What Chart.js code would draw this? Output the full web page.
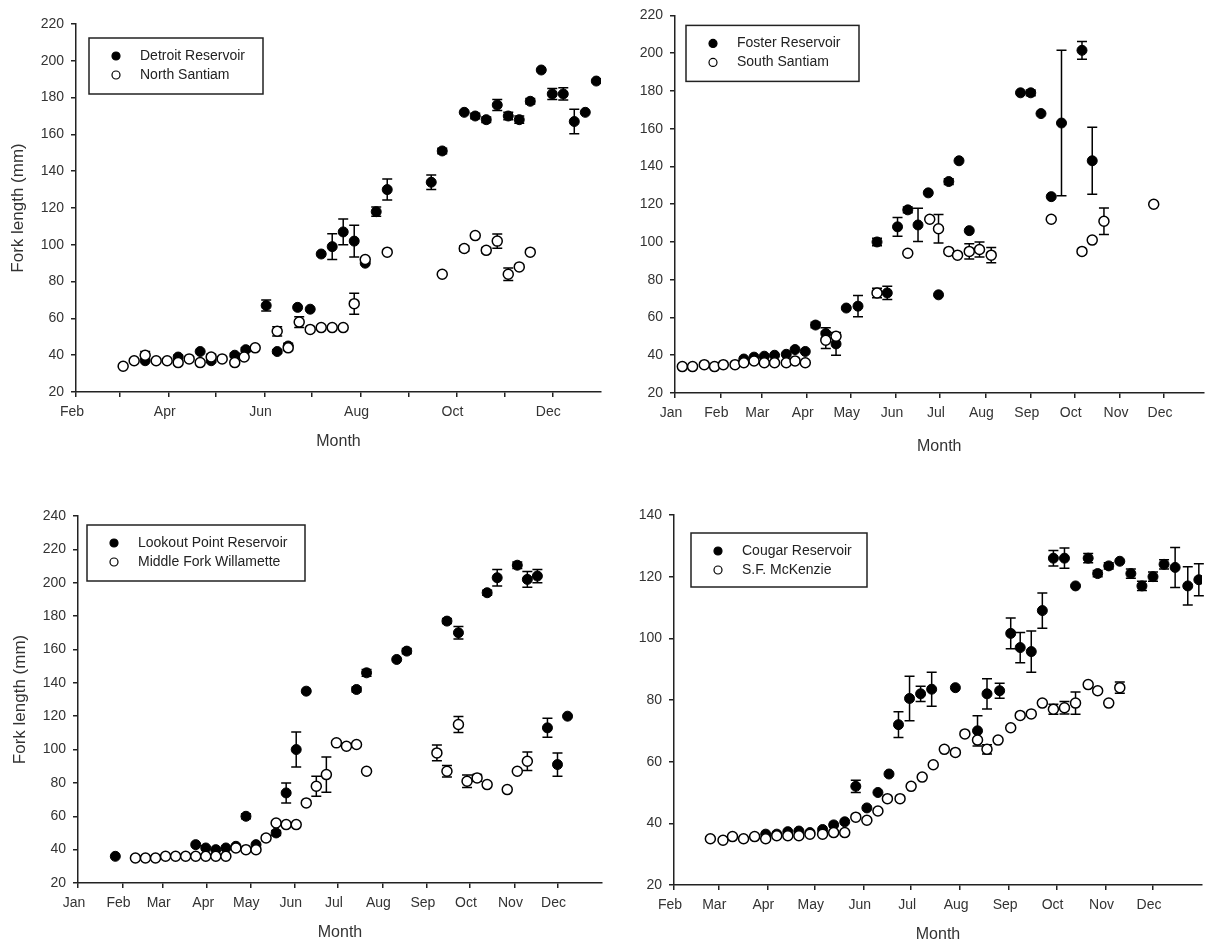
<!DOCTYPE html>
<html>
<head>
<meta charset="utf-8">
<title>Fork length by month</title>
<script src="https://cdn.jsdelivr.net/npm/chart.js@4.4.1/dist/chart.umd.min.js"></script>
<style>
  html, body { margin: 0; padding: 0; background: #fff; }
  #wrap { position: relative; width: 1210px; height: 946px; overflow: hidden; }
  #wrap canvas { position: absolute; left: 0; top: 0; }
</style>
</head>
<body>
<div id="wrap">
  <canvas id="detroit" width="1210" height="946"></canvas>
  <canvas id="foster" width="1210" height="946"></canvas>
  <canvas id="lookout" width="1210" height="946"></canvas>
  <canvas id="cougar" width="1210" height="946"></canvas>
</div>
<script>
// x values are day of year, ticks at the first day of each month
const monthStarts = [1, 32, 60, 91, 121, 152, 182, 213, 244, 274, 305, 335, 366];
const monthNames = ['Jan', 'Feb', 'Mar', 'Apr', 'May', 'Jun', 'Jul', 'Aug', 'Sep', 'Oct', 'Nov', 'Dec', 'Jan'];

// Detroit Reservoir / North Santiam
const detroitDay = [76, 97, 111, 118, 133, 140, 153, 160, 167, 173, 181, 188, 195, 202, 209, 216, 223, 230, 258, 265, 279, 286, 293, 300, 307, 314, 321, 328, 335, 342, 349, 356, 363];
const detroitLen = [37, 39, 42, 37, 40, 43, 67, 42, 45, 66, 65, 95, 99, 107, 102, 90, 118, 130, 134, 151, 172, 170, 168, 176, 170, 168, 178, 195, 182, 182, 167, 172, 189];
const detroitErr = [0, 1, 0, 1, 1, 1, 3, 1, 1.5, 0, 0, 0, 7, 7, 8.6, 0, 2.5, 5.7, 4, 1.5, 0, 1.5, 1.5, 3, 2, 2, 1.5, 0, 3, 3.3, 6.7, 0, 0];
const northDay = [62, 69, 76, 83, 90, 97, 104, 111, 118, 125, 133, 139, 146, 160, 167, 174, 181, 188, 195, 202, 209, 216, 230, 265, 279, 286, 293, 300, 307, 314, 321];
const northLen = [34, 37, 40, 37, 37, 36, 38, 36, 39, 38, 36, 39, 44, 53, 44, 58, 54, 55, 55, 55, 68, 92, 96, 84, 98, 105, 97, 102, 84, 88, 96];
const northErr = [0, 0, 2, 0, 0, 1, 0, 0, 1.5, 0, 0, 0, 0, 2.5, 1.5, 2.9, 0, 0, 0, 0, 5.7, 0, 0, 0, 1.5, 0, 1.5, 3.9, 3.4, 0, 0];

// Foster Reservoir / South Santiam
const fosterDay = [48, 55, 62, 69, 77, 83, 90, 97, 104, 111, 118, 126, 139, 146, 153, 160, 167, 174, 181, 188, 195, 202, 237, 244, 251, 258, 265, 279, 286];
const fosterLen = [38, 39, 39.5, 40, 40.5, 43, 42, 56, 51.5, 46, 65, 66, 100, 73, 108, 117, 109, 126, 72, 132, 143, 106, 179, 179, 168, 124, 163, 201.5, 143];
const fosterErr = [0, 0, 0, 0, 0, 0, 0, 1.5, 3, 6, 0, 5.6, 2, 3.5, 5, 1.5, 8.8, 0, 0, 1.5, 0, 0, 0, 1.5, 0, 0, 38.5, 4.7, 17.7];
const southDay = [6, 13, 21, 28, 34, 42, 48, 55, 62, 69, 77, 83, 90, 104, 111, 139, 160, 175, 181, 188, 194, 202, 209, 217, 258, 279, 286, 294, 328];
const southLen = [34, 34, 35, 34, 35, 35, 36, 37, 36, 36, 36, 37, 36, 48, 50, 73, 94, 112, 107, 95, 93, 95, 96, 93, 112, 95, 101, 111, 120];
const southErr = [0, 0, 0, 0, 0, 0, 0, 0, 0, 0, 0, 0, 0, 4.4, 0, 2.5, 0, 0, 7.5, 0, 0, 4, 4, 4, 0, 0, 0, 7, 0];

// Lookout Point Reservoir / Middle Fork Willamette
const lookoutDay = [27, 83, 90, 97, 104, 111, 118, 125, 139, 146, 153, 160, 195, 202, 223, 230, 258, 266, 286, 293, 307, 314, 321, 328, 335, 342];
const lookoutLen = [36, 43, 41, 40, 41, 42, 60, 43, 50, 74, 100, 135, 136, 146, 154, 159, 177, 170, 194, 203, 210.5, 202, 204, 113, 91, 120];
const lookoutErr = [0, 0, 0, 0, 0, 0, 1.5, 0, 1.5, 6, 10.5, 0, 1.5, 2, 0, 1.5, 1.5, 3.7, 1.5, 5, 2, 4.7, 4, 5.7, 7, 0];
const middleDay = [41, 48, 55, 62, 69, 76, 83, 90, 97, 104, 111, 118, 125, 132, 139, 146, 153, 160, 167, 174, 181, 188, 195, 202, 251, 258, 266, 272, 279, 286, 300, 307, 314];
const middleLen = [35, 35, 35, 36, 36, 36, 36, 36, 36, 36, 41, 40, 40, 47, 56, 55, 55, 68, 78, 85, 104, 102, 103, 87, 98, 87, 115, 81, 83, 79, 76, 87, 93];
const middleErr = [0, 0, 0, 0, 0, 0, 0, 0, 0, 0, 0, 0, 1, 1.5, 0, 0, 0, 0, 6, 10.6, 0, 0, 0, 0, 4.7, 3.4, 4.8, 3.7, 2, 0, 0, 0, 5.5];

// Cougar Reservoir / S.F. McKenzie
const cougarDay = [90, 97, 104, 111, 118, 126, 133, 140, 147, 154, 161, 168, 174, 181, 188, 195, 210, 224, 230, 238, 245, 251, 258, 265, 272, 279, 286, 294, 300, 307, 314, 321, 328, 335, 342, 349, 357, 364];
const cougarLen = [36.5, 36.5, 37.3, 37.5, 37, 38, 39.5, 40.5, 52, 45, 50, 56, 72, 80.5, 82, 83.5, 84, 70, 82, 83, 101.6, 97, 95.7, 109, 126, 126, 117, 126, 121, 123.5, 125, 121, 117, 120, 124, 123, 117, 119];
const cougarErr = [0, 0, 0, 0, 0, 0, 0, 0, 2, 0, 0, 0, 4.2, 7.2, 2.5, 5.5, 0, 4.9, 4.9, 2.4, 5, 4.9, 6.7, 5.7, 2.5, 3.3, 0, 1.5, 1, 1, 0, 1.5, 1.5, 1.5, 1.5, 6.5, 6.2, 5.2];
const mckenzieDay = [55, 63, 69, 76, 83, 90, 97, 104, 111, 118, 126, 133, 140, 147, 154, 161, 167, 175, 182, 189, 196, 203, 210, 216, 224, 230, 237, 245, 251, 258, 265, 272, 279, 286, 294, 300, 307, 314];
const mckenzieLen = [35, 34.5, 35.7, 35, 35.7, 35, 36, 36, 36, 36.5, 36.5, 37, 37, 42, 41, 44, 48, 48, 52, 55, 59, 64, 63, 69, 67, 64, 67, 71, 75, 75.5, 79, 77, 77.5, 79, 85, 83, 79, 84];
const mckenzieErr = [0, 0, 0, 0, 0, 0, 0, 0, 0, 0, 0, 0, 0, 0, 0, 0, 0, 0, 0, 0, 0, 0, 0, 0, 0, 1.5, 0, 0, 0, 0, 0, 1.6, 2, 3.6, 0, 0, 0, 1.8];

const FONT = 'Arial, "Liberation Sans", sans-serif';
Chart.defaults.font.family = FONT;
Chart.defaults.color = '#333';

// mean +/- error bars, drawn under the markers
const errorBars = {
    id: 'errorBars',
    beforeDatasetsDraw(chart) {
        const { ctx, scales: { x, y } } = chart;
        ctx.save();
        ctx.strokeStyle = '#000';
        ctx.lineWidth = 1.5;
        chart.data.datasets.forEach(ds => {
            ds.data.forEach((p, i) => {
                const e = ds.errors[i];
                if (!e) return;
                const px = x.getPixelForValue(p.x);
                const top = y.getPixelForValue(p.y + e);
                const bot = y.getPixelForValue(p.y - e);
                ctx.beginPath();
                ctx.moveTo(px, top); ctx.lineTo(px, bot);
                ctx.moveTo(px - 5, top); ctx.lineTo(px + 5, top);
                ctx.moveTo(px - 5, bot); ctx.lineTo(px + 5, bot);
                ctx.stroke();
            });
        });
        ctx.restore();
    }
};

// boxed legend inside the plot area
const boxLegend = {
    id: 'boxLegend',
    afterDraw(chart, args, opts) {
        const { ctx, chartArea } = chart;
        const left = chartArea.left + opts.dx;
        const top = chartArea.top + opts.dy;
        ctx.save();
        ctx.lineWidth = 1.5;
        ctx.strokeStyle = '#222';
        ctx.strokeRect(left, top, opts.w, opts.h);
        ctx.font = '14px ' + FONT;
        ctx.textBaseline = 'middle';
        chart.data.datasets.forEach((ds, i) => {
            const cy = top + 18 + i * 19;
            ctx.beginPath();
            ctx.arc(left + 27, cy, 4, 0, Math.PI * 2);
            ctx.fillStyle = ds.pointBackgroundColor;
            ctx.fill();
            ctx.lineWidth = 1.2;
            ctx.strokeStyle = '#000';
            ctx.stroke();
            ctx.fillStyle = '#222';
            ctx.fillText(ds.label, left + 51, cy);
        });
        ctx.restore();
    }
};

const axisLine = { drawOnChartArea: false, drawTicks: true, tickLength: 5, color: '#222', lineWidth: 1.5 };
const axisBorder = { display: true, color: '#222', width: 1.5 };

function monthAxis(min, max, every, height) {
    return {
        type: 'linear', min, max,
        afterBuildTicks: axis => {
            axis.ticks = monthStarts.filter(d => d >= min && d < max).map(d => ({ value: d }));
        },
        afterFit: axis => { axis.height = height; },
        grid: axisLine,
        border: axisBorder,
        ticks: {
            autoSkip: false, maxRotation: 0, padding: 7, labelOffset: -4, color: '#333',
            font: { size: 14 },
            callback: v => {
                const i = monthStarts.indexOf(v);
                return (i - 1) % every === 0 ? monthNames[i] : '';
            }
        },
        title: { display: true, text: 'Month', color: '#333', font: { size: 16 }, padding: 0 }
    };
}

function lengthAxis(min, max, width, showTitle, titlePad) {
    return {
        type: 'linear', min, max,
        afterFit: axis => { axis.width = width; },
        grid: axisLine,
        border: axisBorder,
        ticks: { stepSize: 20, padding: 7, color: '#333', font: { size: 14 } },
        title: { display: showTitle, text: 'Fork length (mm)', color: '#333', font: { size: 17 }, padding: { top: titlePad || 0, bottom: 0 } }
    };
}

const toPoints = (days, lens) => days.map((d, i) => ({ x: d, y: lens[i] }));

function filledSet(label, days, lens, errs) {
    return {
        label, data: toPoints(days, lens), errors: errs, order: 2, showLine: false,
        pointRadius: 5, pointHoverRadius: 5, pointBorderWidth: 1,
        pointBackgroundColor: '#000', pointBorderColor: '#000'
    };
}

function openSet(label, days, lens, errs) {
    return {
        label, data: toPoints(days, lens), errors: errs, order: 1, showLine: false,
        pointRadius: 5, pointHoverRadius: 5, pointBorderWidth: 1.5,
        pointBackgroundColor: '#fff', pointBorderColor: '#000'
    };
}

function panel(id, datasets, pad, xAxis, yAxis, legendBox) {
    new Chart(document.getElementById(id), {
        type: 'scatter',
        data: { datasets },
        options: {
            responsive: false,
            animation: false,
            events: [],
            layout: { padding: pad },
            scales: { x: xAxis, y: yAxis },
            plugins: { legend: { display: false }, tooltip: { enabled: false }, boxLegend: legendBox }
        },
        plugins: [errorBars, boxLegend]
    });
}

panel('detroit',
    [filledSet('Detroit Reservoir', detroitDay, detroitLen, detroitErr),
     openSet('North Santiam', northDay, northLen, northErr)],
    { left: 0, top: 24, right: 609, bottom: 494.4 },
    monthAxis(32, 366, 2, 59.6), lengthAxis(20, 220, 76, true, 7.8),
    { dx: 13, dy: 14, w: 174, h: 56 });

panel('foster',
    [filledSet('Foster Reservoir', fosterDay, fosterLen, fosterErr),
     openSet('South Santiam', southDay, southLen, southErr)],
    { left: 630, top: 15, right: 0, bottom: 489.4 },
    monthAxis(1, 362, 1, 63.6), lengthAxis(20, 220, 45, false),
    { dx: 11, dy: 10, w: 173, h: 56 });

panel('lookout',
    [filledSet('Lookout Point Reservoir', lookoutDay, lookoutLen, lookoutErr),
     openSet('Middle Fork Willamette', middleDay, middleLen, middleErr)],
    { left: 0, top: 516, right: 608, bottom: 3.4 },
    monthAxis(1, 366, 1, 59.6), lengthAxis(20, 240, 78, true, 9.8),
    { dx: 9, dy: 9, w: 218, h: 56 });

panel('cougar',
    [filledSet('Cougar Reservoir', cougarDay, cougarLen, cougarErr),
     openSet('S.F. McKenzie', mckenzieDay, mckenzieLen, mckenzieErr)],
    { left: 629, top: 515, right: 8, bottom: 1.4 },
    monthAxis(32, 366, 1, 59.6), lengthAxis(20, 140, 45, false),
    { dx: 17, dy: 18, w: 176, h: 54 });
</script>
</body>
</html>
